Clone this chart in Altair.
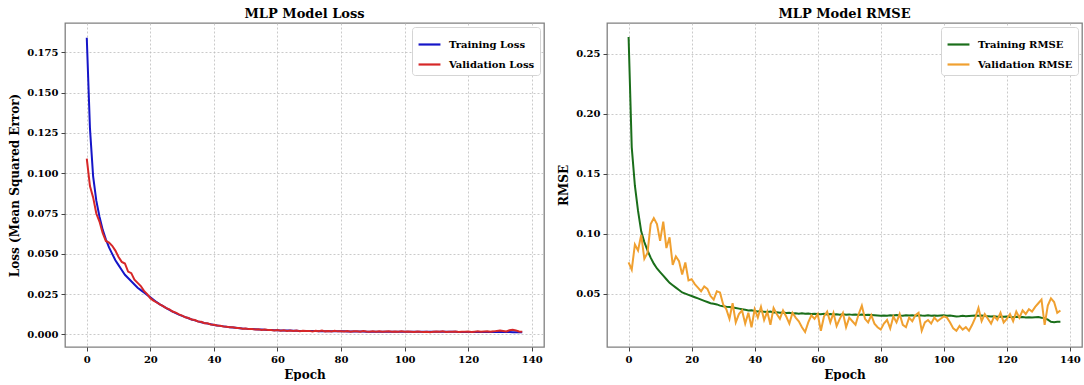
import altair as alt
import pandas as pd

epochs = list(range(138))

train_loss = [
    0.184, 0.128, 0.098, 0.083, 0.073, 0.065, 0.059, 0.054, 0.050, 0.046,
    0.043, 0.040, 0.037, 0.035, 0.033, 0.031, 0.029, 0.0275, 0.026, 0.0245,
    0.0230, 0.0215, 0.0200, 0.0187, 0.0175, 0.0163, 0.0152, 0.0142, 0.0132, 0.0123,
    0.0115, 0.0107, 0.0100, 0.0093, 0.0087, 0.0081, 0.0076, 0.0071, 0.0067, 0.0063,
    0.0059, 0.0056, 0.0053, 0.0050, 0.0047, 0.0045, 0.0043, 0.0041, 0.0039, 0.0037,
    0.0036, 0.0034, 0.0033, 0.0032, 0.0031, 0.0030, 0.0029, 0.0028, 0.0027, 0.0026,
    0.0026, 0.0025, 0.0025, 0.0024, 0.0024, 0.0023, 0.0023, 0.0022, 0.0022, 0.0022,
    0.0021, 0.0021, 0.0021, 0.0020, 0.0020, 0.0020, 0.0020, 0.0019, 0.0019, 0.0019,
    0.0019, 0.0019, 0.0018, 0.0018, 0.0018, 0.0018, 0.0018, 0.0018, 0.0017, 0.0017,
    0.0017, 0.0017, 0.0017, 0.0017, 0.0017, 0.0017, 0.0017, 0.0017, 0.0017, 0.0017,
    0.0017, 0.0017, 0.0016, 0.0016, 0.0016, 0.0016, 0.0016, 0.0016, 0.0016, 0.0016,
    0.0016, 0.0016, 0.0016, 0.0016, 0.0016, 0.0016, 0.0016, 0.0015, 0.0015, 0.0015,
    0.0015, 0.0015, 0.0015, 0.0015, 0.0015, 0.0015, 0.0015, 0.0015, 0.0015, 0.0015,
    0.0015, 0.0015, 0.0015, 0.0015, 0.0014, 0.0014, 0.0014, 0.0014,
]

val_loss = [
    0.109, 0.092, 0.085, 0.075, 0.070, 0.063, 0.058, 0.057, 0.055, 0.052,
    0.048, 0.045, 0.044, 0.039, 0.038, 0.034, 0.032, 0.030, 0.027, 0.025,
    0.0225, 0.0210, 0.0198, 0.0186, 0.0176, 0.0163, 0.0155, 0.0142, 0.0135, 0.0124,
    0.0117, 0.0106, 0.0102, 0.0092, 0.0089, 0.0080, 0.0078, 0.0070, 0.0069, 0.0062,
    0.0060, 0.0055, 0.0054, 0.0049, 0.0048, 0.0044, 0.0044, 0.0040, 0.0040, 0.0036,
    0.0037, 0.0033, 0.0034, 0.0031, 0.0032, 0.0028, 0.0030, 0.0027, 0.0028, 0.0025,
    0.0027, 0.0023, 0.0026, 0.0022, 0.0025, 0.0021, 0.0024, 0.0020, 0.0023, 0.0021,
    0.0022, 0.0019, 0.0023, 0.0020, 0.0024, 0.0019, 0.0021, 0.0018, 0.0022, 0.0019,
    0.0020, 0.0018, 0.0021, 0.0017, 0.0020, 0.0019, 0.0017, 0.0021, 0.0018, 0.0016,
    0.0019, 0.0017, 0.0020, 0.0016, 0.0018, 0.0019, 0.0016, 0.0018, 0.0017, 0.0019,
    0.0016, 0.0018, 0.0017, 0.0015, 0.0018, 0.0016, 0.0015, 0.0017, 0.0014, 0.0016,
    0.0018, 0.0016, 0.0019, 0.0015, 0.0017, 0.0016, 0.0018, 0.0015, 0.0017, 0.0016,
    0.0018, 0.0015, 0.0017, 0.0019, 0.0016, 0.0018, 0.0020, 0.0017, 0.0019, 0.0022,
    0.0024, 0.0021, 0.0018, 0.0026, 0.0029, 0.0025, 0.0018, 0.0016,
]

train_rmse = [
    0.264, 0.172, 0.140, 0.119, 0.102, 0.093, 0.086, 0.080, 0.075, 0.071,
    0.068, 0.065, 0.062, 0.059, 0.057, 0.055, 0.053, 0.051, 0.050, 0.049,
    0.048, 0.047, 0.046, 0.045, 0.044, 0.043, 0.042, 0.0415, 0.041, 0.040,
    0.0395, 0.039, 0.0388, 0.0385, 0.038, 0.0375, 0.037, 0.0365, 0.036, 0.0362,
    0.0355, 0.0352, 0.0355, 0.0348, 0.0346, 0.0350, 0.0343, 0.0345, 0.0340, 0.0342,
    0.0338, 0.0340, 0.0335, 0.0337, 0.0333, 0.0336, 0.0332, 0.0334, 0.0330, 0.0333,
    0.0331, 0.0328, 0.0332, 0.0327, 0.0330, 0.0326, 0.0329, 0.0325, 0.0328, 0.0324,
    0.0327, 0.0323, 0.0326, 0.0322, 0.0325, 0.0321, 0.0324, 0.0322, 0.0320, 0.0318,
    0.0316, 0.0318, 0.0315, 0.0319, 0.0317, 0.0322, 0.0318, 0.0316, 0.0320, 0.0317,
    0.0319, 0.0316, 0.0320, 0.0317, 0.0315, 0.0319, 0.0316, 0.0318, 0.0315, 0.0317,
    0.0319, 0.0316, 0.0318, 0.0314, 0.0310, 0.0312, 0.0315, 0.0311, 0.0314, 0.0316,
    0.0318, 0.0315, 0.0317, 0.0313, 0.0311, 0.0309, 0.0312, 0.0308, 0.0310, 0.0307,
    0.0309, 0.0306, 0.0304, 0.0307, 0.0303, 0.0305, 0.0302, 0.0304, 0.0301, 0.0303,
    0.0305, 0.0299, 0.0296, 0.0283, 0.0265, 0.0262, 0.0265, 0.0266,
]

val_rmse = [
    0.076, 0.070, 0.091, 0.086, 0.099, 0.079, 0.084, 0.108, 0.113, 0.108,
    0.094, 0.110, 0.088, 0.097, 0.074, 0.081, 0.077, 0.066, 0.076, 0.061,
    0.062, 0.058, 0.055, 0.052, 0.056, 0.054, 0.048, 0.045, 0.052, 0.051,
    0.041, 0.037, 0.029, 0.042, 0.026, 0.033, 0.036, 0.025, 0.034, 0.022,
    0.037, 0.030, 0.039, 0.028, 0.035, 0.024, 0.038, 0.033, 0.029, 0.036,
    0.031, 0.025, 0.034, 0.030, 0.027, 0.022, 0.018, 0.026, 0.032, 0.029,
    0.033, 0.019, 0.031, 0.035, 0.026, 0.034, 0.023, 0.029, 0.034, 0.022,
    0.030, 0.027, 0.024, 0.033, 0.040, 0.029, 0.026, 0.032, 0.025, 0.022,
    0.020, 0.025, 0.028, 0.021, 0.031, 0.026, 0.033, 0.024, 0.022, 0.030,
    0.027, 0.032, 0.034, 0.019, 0.026, 0.028, 0.025, 0.030, 0.027, 0.029,
    0.031, 0.030, 0.026, 0.021, 0.019, 0.023, 0.020, 0.022, 0.019, 0.024,
    0.030, 0.038, 0.027, 0.033, 0.029, 0.025, 0.031, 0.028, 0.034, 0.026,
    0.029, 0.033, 0.027, 0.035, 0.030, 0.036, 0.033, 0.037, 0.035, 0.039,
    0.042, 0.045, 0.024, 0.040, 0.046, 0.043, 0.034, 0.036,
]

x_ticks = [0, 20, 40, 60, 80, 100, 120, 140]
loss_ticks = [0.0, 0.025, 0.05, 0.075, 0.1, 0.125, 0.15, 0.175]
rmse_ticks = [0.05, 0.1, 0.15, 0.2, 0.25]

FONT = "DejaVu Serif"

loss_df = pd.concat([
    pd.DataFrame({"Epoch": epochs, "value": train_loss, "series": "Training Loss", "order": 0}),
    pd.DataFrame({"Epoch": epochs, "value": val_loss, "series": "Validation Loss", "order": 1}),
])
rmse_df = pd.concat([
    pd.DataFrame({"Epoch": epochs, "value": train_rmse, "series": "Training RMSE", "order": 0}),
    pd.DataFrame({"Epoch": epochs, "value": val_rmse, "series": "Validation RMSE", "order": 1}),
])


def xaxis():
    return alt.X(
        "Epoch:Q",
        scale=alt.Scale(domain=[-6.85, 143.85], nice=False, zero=False),
        axis=alt.Axis(values=x_ticks, format="d", title="Epoch"),
    )


def legend():
    return alt.Legend(
        title=None, orient="top-right", offset=4,
        fillColor="white", strokeColor="#d5d5d5", cornerRadius=3, padding=5,
        symbolType="stroke", symbolSize=480, symbolStrokeWidth=2.2,
        labelFont=FONT, labelFontWeight="bold", labelFontSize=10, labelColor="black",
        rowPadding=2, labelOffset=7,
    )


loss_chart = alt.Chart(loss_df, title="MLP Model Loss").mark_line(strokeWidth=2).encode(
    x=xaxis(),
    y=alt.Y(
        "value:Q",
        scale=alt.Scale(domain=[-0.0078, 0.1932], nice=False, zero=False),
        axis=alt.Axis(values=loss_ticks, format=".3f", title="Loss (Mean Squared Error)"),
    ),
    color=alt.Color(
        "series:N",
        scale=alt.Scale(domain=["Training Loss", "Validation Loss"], range=["#1515c8", "#d62728"]),
        legend=legend(),
    ),
    order="order:Q",
).properties(width=479, height=324)

rmse_chart = alt.Chart(rmse_df, title="MLP Model RMSE").mark_line(strokeWidth=2).encode(
    x=xaxis(),
    y=alt.Y(
        "value:Q",
        scale=alt.Scale(domain=[0.0055, 0.2757], nice=False, zero=False),
        axis=alt.Axis(values=rmse_ticks, format=".2f", title="RMSE"),
    ),
    color=alt.Color(
        "series:N",
        scale=alt.Scale(domain=["Training RMSE", "Validation RMSE"], range=["#1a6e1a", "#f0a030"]),
        legend=legend(),
    ),
    order="order:Q",
).properties(width=475, height=324)

chart = alt.hconcat(loss_chart, rmse_chart, spacing=63, bounds="flush").resolve_scale(
    color="independent"
).properties(
    padding={"left": 8, "top": 7, "right": 0, "bottom": 0},
    background="white",
).configure_view(
    stroke="#808080", strokeWidth=1.3,
).configure_axis(
    domain=False,
    grid=True, gridColor="#bdbdbd", gridDash=[2, 2], gridWidth=0.8,
    ticks=True, tickSize=4, tickColor="#444444", tickWidth=1,
    labelFont=FONT, labelFontWeight="bold", labelFontSize=10, labelColor="black", labelPadding=3,
    titleFont=FONT, titleFontWeight="bold", titleFontSize=12, titleColor="black", titlePadding=5,
).configure_title(
    font=FONT, fontWeight="bold", fontSize=13, color="black", offset=2, anchor="middle",
)

chart.save("out.html", embed_options={"renderer": "svg", "actions": False})
